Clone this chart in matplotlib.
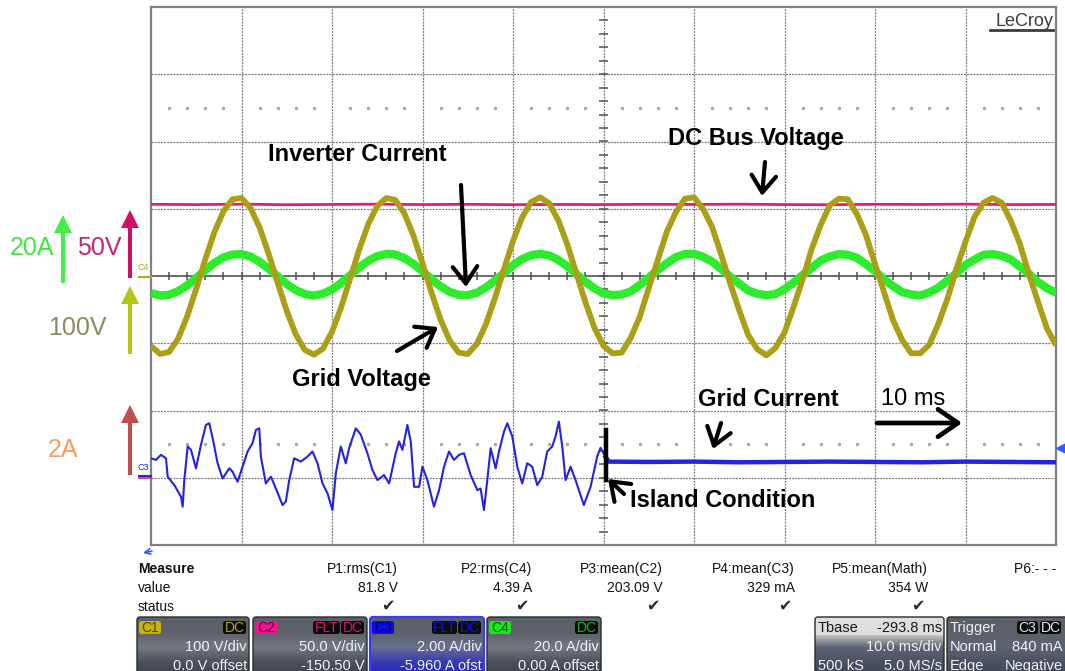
import numpy as np
import matplotlib
matplotlib.use('Agg')
import matplotlib.pyplot as plt
from matplotlib.patches import FancyBboxPatch, Rectangle

plt.rcParams['font.family'] = ['Liberation Sans', 'DejaVu Sans']

W, H = 1065, 671

# scope sample times (ms), readings taken every 1 ms, 10 ms/div
t_ms = np.arange(0, 101)

# C1 grid voltage (V)
c1_volts = [-104, -116, -113, -93, -60, -19, 25, 65, 96, 114, 116, 101, 72, 33, -10, -52, -87,
            -110, -117, -108, -83, -47, -4, 39, 77, 104, 116, 113, 93, 60, 19, -25, -65, -96,
            -114, -116, -101, -72, -33, 10, 52, 87, 110, 117, 108, 83, 47, 4, -39, -77,
            -104, -115, -114, -92, -61, -18, 24, 66, 95, 115, 117, 100, 73, 32, -11, -51, -88,
            -109, -118, -107, -84, -46, -5, 40, 76, 105, 115, 114, 92, 61, 18, -24, -66, -95,
            -115, -115, -102, -71, -34, 11, 51, 88, 109, 116, 109, 82, 48, 3, -38, -78, -103]

# C4 inverter current (A)
c4_amps = [-5.1, -5.8, -5.6, -4.5, -2.8, -0.6, 1.7, 3.9, 5.5, 6.4, 6.5, 5.8, 4.2, 2.2, -0.1, -2.4,
           -4.2, -5.4, -5.8, -5.3, -4.0, -2.1, 0.2, 2.5, 4.5, 5.9, 6.6, 6.4, 5.3, 3.6, 1.4, -0.9,
           -3.1, -4.7, -5.6, -5.7, -5.0, -3.4, -1.4, 0.9, 3.2, 5.0, 6.2, 6.6, 6.1, 4.8, 2.9, 0.6,
           -1.7, -3.7,
           -5.2, -5.7, -5.5, -4.6, -2.7, -0.5, 1.8, 3.8, 5.6, 6.5, 6.6, 5.7, 4.3, 2.1, -0.2, -2.3,
           -4.3, -5.3, -5.7, -5.4, -3.9, -2.0, 0.3, 2.4, 4.6, 5.8, 6.5, 6.3, 5.4, 3.5, 1.5, -1.0,
           -3.0, -4.8, -5.5, -5.8, -4.9, -3.5, -1.3, 0.8, 3.3, 4.9, 6.3, 6.5, 6.0, 4.9, 2.8, 0.7,
           -1.8, -3.6, -5.0]

# C2 DC bus voltage (V)
c2_t = [0, 5, 10, 15, 20, 25, 30, 35, 40, 45, 50, 55, 60, 65, 70, 75, 80, 85, 90, 95, 100]
c2_volts = [203.8, 203.6, 203.9, 203.5, 203.7, 203.9, 203.6, 203.8, 203.5, 203.7, 203.6,
            203.8, 203.7, 203.9, 203.6, 203.5, 203.8, 203.7, 203.9, 203.6, 203.7]

# C3 grid current (A), before islanding
c3_t = [0.0, 0.55, 1.10, 1.66, 1.84, 2.58, 3.31, 3.50, 3.68, 4.05, 4.42, 4.97, 5.52, 6.07, 6.44,
        6.81, 7.36, 7.91, 8.65, 9.01, 9.57, 10.12, 10.67, 11.22, 11.59, 11.96, 12.14, 12.69,
        13.25, 13.80, 14.53, 14.90, 15.27, 15.82, 16.56, 17.29, 17.84, 18.40, 18.95, 19.50,
        20.05, 20.42, 20.97, 21.52, 21.89, 22.63, 23.18, 23.91, 24.47, 25.02, 25.75, 26.31,
        27.04, 27.41, 27.78, 28.33, 28.70, 29.07, 29.62, 29.99, 30.54, 31.27, 31.83, 32.38,
        32.93, 33.48, 34.03, 34.58, 35.32, 36.06, 36.42, 36.79, 37.16, 37.53, 38.08, 38.45,
        39.00, 39.37, 39.92, 40.47, 41.02, 41.57, 42.13, 42.68, 43.23, 43.78, 44.33, 44.70,
        45.07, 45.44, 45.81, 46.36, 46.91, 47.83, 48.57, 49.30, 49.67, 50.22]
c3_amps = [0.54, 0.49, 0.64, 0.54, -0.01, -0.26, -0.60, -0.90, -0.11, 0.89, 0.79, 0.24, 0.94,
           1.53, 1.58, 1.14, 0.39, -0.06, 0.24, 0.14, -0.16, 0.29, 0.74, 0.99, 1.38, 1.43, 0.59,
           -0.21, -0.01, -0.36, -0.85, -0.75, -0.11, 0.54, 0.44, 0.59, 0.74, 0.39, -0.21, -0.50,
           -1.00, 0.09, 0.89, 0.39, 0.84, 1.43, 1.24, 0.69, 0.19, -0.11, 0.04, -0.21, 0.69, 1.04,
           0.79, 1.53, 1.04, -0.31, -0.31, 0.29, -0.11, -0.90, -0.41, 0.29, 0.74, 0.49, 0.64,
           0.69, 0.04, -0.41, -0.36, -1.00, -0.11, 0.84, 0.24, 0.74, 1.33, 1.58, 1.19, 0.29,
           -0.21, 0.39, 0.29, -0.26, -0.01, 0.74, 0.89, 1.19, 1.63, 0.89, -0.11, 0.29, -0.11,
           -0.85, -0.31, 0.59, 0.85, 0.58]
# C3 after islanding
c3_after_t = [50.22, 50.6, 55, 60, 65, 70, 75, 80, 85, 90, 95, 100]
c3_after_amps = [0.58, 0.44, 0.43, 0.44, 0.42, 0.43, 0.44, 0.43, 0.42, 0.44, 0.43, 0.42]

# channel settings: volts-or-amps per div, offset
scale = {'C1': 100.0, 'C2': 50.0, 'C3': 2.0, 'C4': 20.0}
offset = {'C1': 0.0, 'C2': -150.5, 'C3': -5.96, 'C4': 0.0}
trigger_level = 0.84


def to_div(vals, ch):
    return (np.asarray(vals) + offset[ch]) / scale[ch]


fig = plt.figure(figsize=(W / 100, H / 100), dpi=100)
fig.patch.set_facecolor('white')

ax = fig.add_axes([151 / W, 1 - 545 / H, (1056 - 151) / W, (545 - 7) / H])
ax.set_xlim(0, 100)
ax.set_ylim(-4, 4)
ax.set_xticks([])
ax.set_yticks([])
for s in ax.spines.values():
    s.set_color('#808080')
    s.set_linewidth(1.6)

grid_kw = dict(color='#7c7c7c', lw=0.9, ls=(0, (1.6, 0.9)), zorder=1)
for i in range(1, 10):
    ax.axvline(i * 10, **grid_kw)
for j in range(-3, 4):
    if j != 0:
        ax.axhline(j, **grid_kw)
ax.axhline(0, color='#505050', lw=1.2, zorder=1)
ax.vlines(np.arange(0, 101, 2), -0.06, 0.06, color='#505050', lw=1.1, zorder=1)
ax.hlines(np.arange(-4, 4.01, 0.2), 49.5, 50.5, color='#505050', lw=1.1, zorder=1)

dot_x = [x for x in range(2, 100, 2) if x % 10 != 0]
for lev in (2.5, -2.5):
    ax.plot(dot_x, [lev] * len(dot_x), ls='none', marker='s', ms=1.3, color='#a8a8a8', zorder=1)

# traces
ax.plot(c2_t, to_div(c2_volts, 'C2'), color='#e8197b', lw=2.0, zorder=3)
ax.plot(t_ms, to_div(c4_amps, 'C4'), color='#2cec2c', lw=6.0, zorder=4, solid_capstyle='butt')
ax.plot(t_ms, to_div(c1_volts, 'C1'), color='#aa9f16', lw=4.2, zorder=5, solid_capstyle='butt')
ax.plot(c3_t, to_div(c3_amps, 'C3'), color='#2323e2', lw=1.5, zorder=4)
ax.plot(c3_after_t, to_div(c3_after_amps, 'C3'), color='#2323e2', lw=3.2, zorder=4)

# trigger level marker
ax.plot([100.55], [to_div(trigger_level, 'C3')], marker='<', ms=7, color='#2b5cff',
        clip_on=False, zorder=6)

# overlay in pixel coordinates for labels and panels
ov = fig.add_axes([0, 0, 1, 1], zorder=10)
ov.set_xlim(0, W)
ov.set_ylim(H, 0)
ov.axis('off')
ov.patch.set_visible(False)

ov.text(1053, 26, 'LeCroy', fontsize=13, color='#3c3c3c', ha='right', va='baseline')
ov.plot([990, 1053], [29.5, 29.5], color='#3c3c3c', lw=2)

# island marker line
ov.plot([606, 606], [430, 480], color='black', lw=3.2)

ann = dict(fontsize=17, fontweight='bold', color='black', va='baseline', ha='left')
ov.text(268, 161, 'Inverter Current', **ann)
ov.text(668, 145, 'DC Bus Voltage', **ann)
ov.text(292, 386, 'Grid Voltage', **ann)
ov.text(698, 406, 'Grid Current', **ann)
ov.text(630, 507, 'Island Condition', **ann)
ov.text(881, 405, '10 ms', fontsize=17, color='black', va='baseline', ha='left')


def arrow(tail, tip, lw=3.0, hl=0.55, hw=0.4):
    ov.annotate('', xy=tip, xytext=tail,
                arrowprops=dict(arrowstyle='->,head_length=%s,head_width=%s' % (hl, hw),
                                lw=lw, color='black', shrinkA=0, shrinkB=0,
                                mutation_scale=22))


arrow((461, 185), (466, 287))
arrow((765, 162), (762, 196))
arrow((397, 351), (438, 327))
arrow((721, 423), (713, 449))
arrow((877, 423), (962, 423), lw=3.4, hl=0.65, hw=0.45)
arrow((624, 494), (608, 479))

# small blue arrow under the grid
ov.annotate('', xy=(143, 553), xytext=(152, 551),
            arrowprops=dict(arrowstyle='->', lw=1.2, color='#2b5cff', shrinkA=0, shrinkB=0))

# channel level labels at left edge
ov.text(137, 270, 'C4', fontsize=6.5, color='#b7aa10', ha='left', va='baseline')
ov.plot([139, 151], [276.5, 276.5], color='#b7aa10', lw=1.5)
ov.text(137, 470, 'C3', fontsize=6.5, color='#2323e2', ha='left', va='baseline')
ov.plot([139, 151], [475.5, 475.5], color='#2323e2', lw=1.5)
ov.plot([139, 151], [478, 478], color='#e8197b', lw=1.2)

# left scale labels and arrows
ov.text(10, 255, '20A', fontsize=18, color='#40e840', ha='left', va='baseline')
ov.arrow(63, 283, 0, -68, width=4, head_width=18, head_length=18,
         length_includes_head=True, color='#44ee44', lw=0)
ov.text(77, 255, '50V', fontsize=18, color='#cc2277', ha='left', va='baseline')
ov.arrow(130, 278, 0, -68, width=4, head_width=18, head_length=18,
         length_includes_head=True, color='#cc1166', lw=0)
ov.text(48, 335, '100V', fontsize=18, color='#8a8a5c', ha='left', va='baseline')
ov.arrow(130, 354, 0, -68, width=4, head_width=18, head_length=18,
         length_includes_head=True, color='#b4c514', lw=0)
ov.text(48, 457, '2A', fontsize=18, color='#ff9a5a', ha='left', va='baseline')
ov.arrow(130, 475, 0, -70, width=4, head_width=18, head_length=18,
         length_includes_head=True, color='#c0504d', lw=0)

# measurement table
fs = 10
ov.text(138, 573, 'Measure', fontsize=fs, fontweight='bold', color='#111111', va='baseline')
ov.text(138, 592, 'value', fontsize=fs, color='#111111', va='baseline')
ov.text(138, 611, 'status', fontsize=fs, color='#111111', va='baseline')

meas_names = ['P1:rms(C1)', 'P2:rms(C4)', 'P3:mean(C2)', 'P4:mean(C3)', 'P5:mean(Math)', 'P6:- - -']
meas_values = ['81.8 V', '4.39 A', '203.09 V', '329 mA', '354 W', '']
meas_right = [398, 532, 663, 795, 928, 1056]
for name, val, xr in zip(meas_names, meas_values, meas_right):
    ov.text(xr, 573, name, fontsize=fs, color='#111111', ha='right', va='baseline')
    if val:
        ov.text(xr, 592, val, fontsize=fs, color='#111111', ha='right', va='baseline')
        ov.text(xr - 3, 611, '\u2714', fontsize=11.5, color='#2a2a2a', ha='right', va='baseline')


def gradient_box(x0, x1, colors, edge='#2a2a2a', ew=1.0):
    y0, y1 = 617, H + 6
    n = 60
    stops = np.linspace(0, 1, len(colors))
    rgb = np.array([matplotlib.colors.to_rgb(c) for c in colors])
    pos = np.linspace(0, 1, n)
    grad = np.stack([np.interp(pos, stops, rgb[:, k]) for k in range(3)], axis=1)
    grad = grad[:, None, :]
    patch = FancyBboxPatch((x0, y0), x1 - x0, y1 - y0, boxstyle='round,pad=0,rounding_size=3',
                           fc='none', ec=edge, lw=ew, zorder=3)
    ov.add_patch(patch)
    im = ov.imshow(grad, extent=(x0, x1, y1, y0), aspect='auto', origin='upper', zorder=2)
    im.set_clip_path(patch)


def chip(x0, x1, text, fc, tc):
    ov.add_patch(FancyBboxPatch((x0, 621), x1 - x0, 13, boxstyle='round,pad=0,rounding_size=2.5',
                                fc=fc, ec='none', zorder=4))
    ov.text((x0 + x1) / 2, 632, text, fontsize=10, color=tc, ha='center', va='baseline', zorder=5)


gray_grad = ['#5c6068', '#5c6068', '#747880', '#4e525a', '#3c4048']
ch_boxes = [
    (137, 249, 'C1', '#c8b400', '#4a4200', [('DC', 223, 246)], '#b4a800', '100 V/div', '0.0 V offset'),
    (253, 367, 'C2', '#ee1493', '#6a0038', [('FLT', 313, 340), ('DC', 341, 364)], '#e0106e', '50.0 V/div', '-150.50 V'),
    (370, 484, 'C3', '#0a0ae6', '#00006a', [('FLT', 432, 457), ('DC', 458, 481)], '#1010e0', '2.00 A/div', '-5.960 A ofst'),
    (487, 601, 'C4', '#18e818', '#005a00', [('DC', 575, 598)], '#10c010', '20.0 A/div', '0.00 A offset'),
]
for x0, x1, lab, fc, tc, tags, tagc, l1, l2 in ch_boxes:
    if lab == 'C3':
        gradient_box(x0, x1, ['#5c6068', '#5c6068', '#6a6f90', '#3a3ab0', '#2020d0'], edge='#3b3bff', ew=1.6)
    else:
        gradient_box(x0, x1, gray_grad)
    chip(x0 + 2, x0 + 24, lab, fc, tc)
    for tag, a, b in tags:
        chip(a, b, tag, '#0c0c0c', tagc)
    ov.text(x1 - 2, 651, l1, fontsize=10.5, color='#f2f2f2', ha='right', va='baseline', zorder=5)
    ov.text(x1 - 2, 670, l2, fontsize=10.5, color='#f2f2f2', ha='right', va='baseline', zorder=5)

# timebase box
gradient_box(815, 944, ['#dcdcdc', '#dcdcdc', '#5e6474', '#4c5262', '#3e4350'])
ov.add_patch(Rectangle((816, 618), 127, 17, fc='#dedede', ec='none', zorder=3))
ov.text(818, 632, 'Tbase', fontsize=10.5, color='#1a1a1a', va='baseline', zorder=5)
ov.text(942, 632, '-293.8 ms', fontsize=10.5, color='#1a1a1a', ha='right', va='baseline', zorder=5)
ov.text(942, 651, '10.0 ms/div', fontsize=10.5, color='#f2f2f2', ha='right', va='baseline', zorder=5)
ov.text(818, 670, '500 kS', fontsize=10.5, color='#f2f2f2', va='baseline', zorder=5)
ov.text(942, 670, '5.0 MS/s', fontsize=10.5, color='#f2f2f2', ha='right', va='baseline', zorder=5)

# trigger box
gradient_box(947, 1070, ['#5c6068', '#5c6068', '#5e6474', '#4c5262', '#3e4350'])
ov.text(950, 632, 'Trigger', fontsize=10.5, color='#eeeeee', va='baseline', zorder=5)
chip(1017, 1038, 'C3', '#0c0c0c', '#e8e8e8')
chip(1040, 1061, 'DC', '#0c0c0c', '#e8e8e8')
ov.text(950, 651, 'Normal', fontsize=10.5, color='#f2f2f2', va='baseline', zorder=5)
ov.text(1063, 651, '840 mA', fontsize=10.5, color='#f2f2f2', ha='right', va='baseline', zorder=5)
ov.text(950, 670, 'Edge', fontsize=10.5, color='#f2f2f2', va='baseline', zorder=5)
ov.text(1063, 670, 'Negative', fontsize=10.5, color='#f2f2f2', ha='right', va='baseline', zorder=5)

fig.savefig('out.png', dpi=100)
